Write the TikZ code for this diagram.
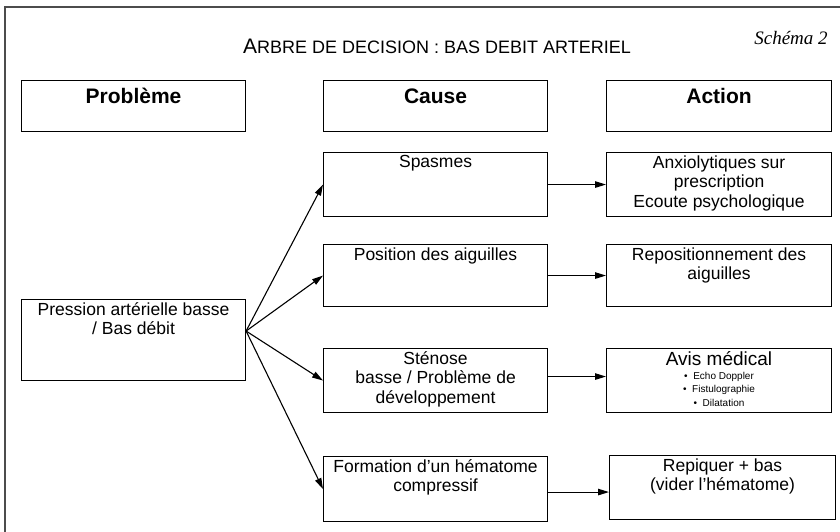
\documentclass[tikz,border=0pt]{standalone}
\usepackage{fontspec}
\setmainfont{Liberation Sans}
\newfontfamily\schemafont{Liberation Serif}
\usetikzlibrary{arrows.meta}

% boite de texte aligne en haut
\newcommand{\boite}[3]{\parbox[t][#2][t]{#1}{\centering\vspace{3pt}#3\par}}

\begin{document}
\begin{tikzpicture}[x=1pt,y=-1pt,>={Triangle[length=11pt,width=6.5pt]},
  cadre/.style={draw,line width=1.1pt,inner sep=0pt,anchor=north west},
  entete/.style={font=\fontsize{21}{24}\selectfont\bfseries},
  texte/.style={font=\fontsize{17.5}{19.5}\selectfont},
  fleche/.style={->,line width=1.1pt}]

  \useasboundingbox (0,0) rectangle (840,532);
  \draw[line width=1.6pt,black!70] (5,540) -- (5,7) -- (850,7);

  \node (titre) at (437,46) {\fontsize{21}{24}\selectfont A\fontsize{18}{24}\selectfont RBRE DE DECISION : BAS DEBIT ARTERIEL};
  \node (schema) at (791,38) {\schemafont\itshape\fontsize{19}{22}\selectfont Schéma 2};

  % en-tetes
  \node[cadre,entete] (probleme) at (21,80) {\boite{224pt}{51pt}{\vspace{5pt}Problème}};
  \node[cadre,entete] (cause) at (323,80) {\boite{224pt}{51pt}{\vspace{5pt}Cause}};
  \node[cadre,entete] (action) at (606,80) {\boite{225pt}{51pt}{\vspace{5pt}Action}};

  % causes
  \node[cadre,texte] (spasmes) at (323,152) {\boite{224pt}{64pt}{Spasmes}};
  \node[cadre,texte] (position) at (323,244) {\boite{224pt}{62pt}{Position des aiguilles}};
  \node[cadre,texte] (stenose) at (323,348) {\boite{224pt}{64pt}{Sténose\\ basse / Problème de\\ développement}};
  \node[cadre,texte] (formation) at (323,456) {\boite{224pt}{65pt}{Formation d'un hématome\\ compressif}};

  % actions
  \node[cadre,texte] (anxio) at (606,152) {\boite{225pt}{64pt}{Anxiolytiques sur\\ prescription\\ Ecoute psychologique}};
  \node[cadre,texte] (repos) at (606,244) {\boite{225pt}{62pt}{Repositionnement des\\ aiguilles}};
  \node[cadre,texte] (avis) at (606,348) {\boite{225pt}{64pt}{{\fontsize{19}{20}\selectfont Avis médical}\par
    {\fontsize{10}{13.5}\selectfont \textbullet\ \ Echo Doppler\\ \textbullet\ \ Fistulographie\\ \textbullet\ \ Dilatation\par}}};
  \node[cadre,texte] (repiquer) at (609,455) {\boite{226pt}{64pt}{Repiquer + bas\\ (vider l'hématome)}};

  % probleme
  \node[cadre,texte] (pression) at (21,299) {\boite{224pt}{81pt}{Pression artérielle basse\\ / Bas débit}};
  \coordinate (depart) at ([yshift=9pt]pression.east);

  \draw[fleche] (depart) -- (spasmes.west);
  \draw[fleche] (depart) -- (position.west);
  \draw[fleche] (depart) -- (stenose.west);
  \draw[fleche] (depart) -- (formation.west);

  \draw[fleche] (spasmes.east) -- (spasmes.east -| anxio.west);
  \draw[fleche] (position.east) -- (position.east -| repos.west);
  \draw[fleche] ([yshift=4pt]stenose.east) -- ([yshift=4pt]stenose.east -| avis.west);
  \draw[fleche] ([yshift=-3pt]formation.east) -- ([yshift=-3pt]formation.east -| repiquer.west);

\end{tikzpicture}
\end{document}
